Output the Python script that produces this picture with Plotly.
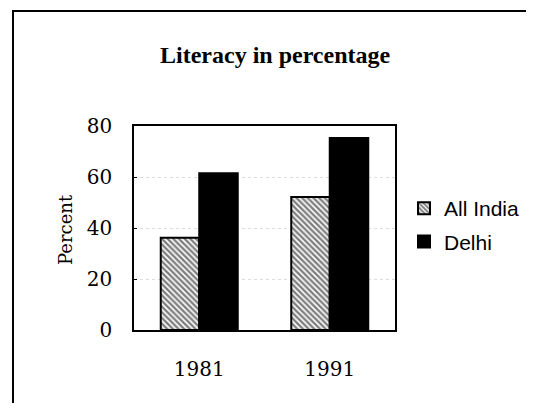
import plotly.graph_objects as go

years = ["1981", "1991"]
all_india = [36.2, 52.2]
delhi = [61.5, 75.3]
y_ticks = [0, 20, 40, 60, 80]
title_text = "Literacy in percentage"
y_title = "Percent"

# page has an 8px body margin; figure sized to fit the 534x411 window
OFF = 8
W, H = 534 - 2 * OFF, 411 - 2 * OFF
# plot area in screen pixels: x 134..395, y 126..330
L, T = 134 - OFF, 126 - OFF
pw, ph = 261, 204
R, B = W - L - pw, H - T - ph

def px_x(sx):
    return (sx - OFF - L) / pw

def px_y(sy):
    return (T + ph - (sy - OFF)) / ph

fig = go.Figure()
fig.add_trace(go.Bar(
    x=years, y=all_india, name="All India", legendgroup="a",
    marker=dict(color="white", line=dict(color="black", width=2),
                pattern=dict(shape="\\", fgcolor="black", bgcolor="white", size=4, solidity=0.6)),
))
fig.add_trace(go.Bar(
    x=years, y=delhi, name="Delhi", legendgroup="b",
    marker=dict(color="black", line=dict(color="black", width=2)),
))

fig.update_layout(
    width=W, height=H,
    margin=dict(l=L, r=R, t=T, b=B, pad=0, autoexpand=False),
    paper_bgcolor="white", plot_bgcolor="white",
    barmode="group", bargap=0.41, bargroupgap=0,
    showlegend=True,
    legend=dict(x=px_x(404), y=px_y(188), xanchor="left", yanchor="top",
                font=dict(family="Liberation Sans, Arial", size=21, color="black"),
                tracegroupgap=3, itemwidth=30, bgcolor="rgba(0,0,0,0)"),
    xaxis=dict(type="category", showline=True, mirror=True, linecolor="black", linewidth=1.5,
               ticks="", showgrid=False, ticklabelstandoff=20,
               tickfont=dict(family="DejaVu Serif", size=20, color="black")),
    yaxis=dict(range=[0, 80], tickvals=y_ticks, showline=True, mirror=True, linecolor="black",
               linewidth=1.5, ticks="inside", ticklen=3, tickcolor="black",
               showgrid=True, gridcolor="#dddddd", griddash="dot", gridwidth=1,
               zeroline=False, ticklabelstandoff=16,
               tickfont=dict(family="DejaVu Serif", size=20, color="black")),
    annotations=[
        dict(text=title_text, xref="paper", yref="paper", x=px_x(275), y=px_y(55),
             xanchor="center", yanchor="middle", showarrow=False,
             font=dict(family="Liberation Serif, Times New Roman", size=24, color="black", weight="bold")),
        dict(text=y_title, xref="paper", yref="paper", x=px_x(65), y=px_y(230),
             xanchor="center", yanchor="middle", showarrow=False, textangle=-90,
             font=dict(family="DejaVu Serif", size=18, color="black")),
    ],
    shapes=[
        dict(type="rect", xref="paper", yref="paper", x0=px_x(13), y0=px_y(440),
             x1=px_x(560), y1=px_y(11), line=dict(color="black", width=2), layer="below"),
    ],
)

fig.write_html("out.html")
